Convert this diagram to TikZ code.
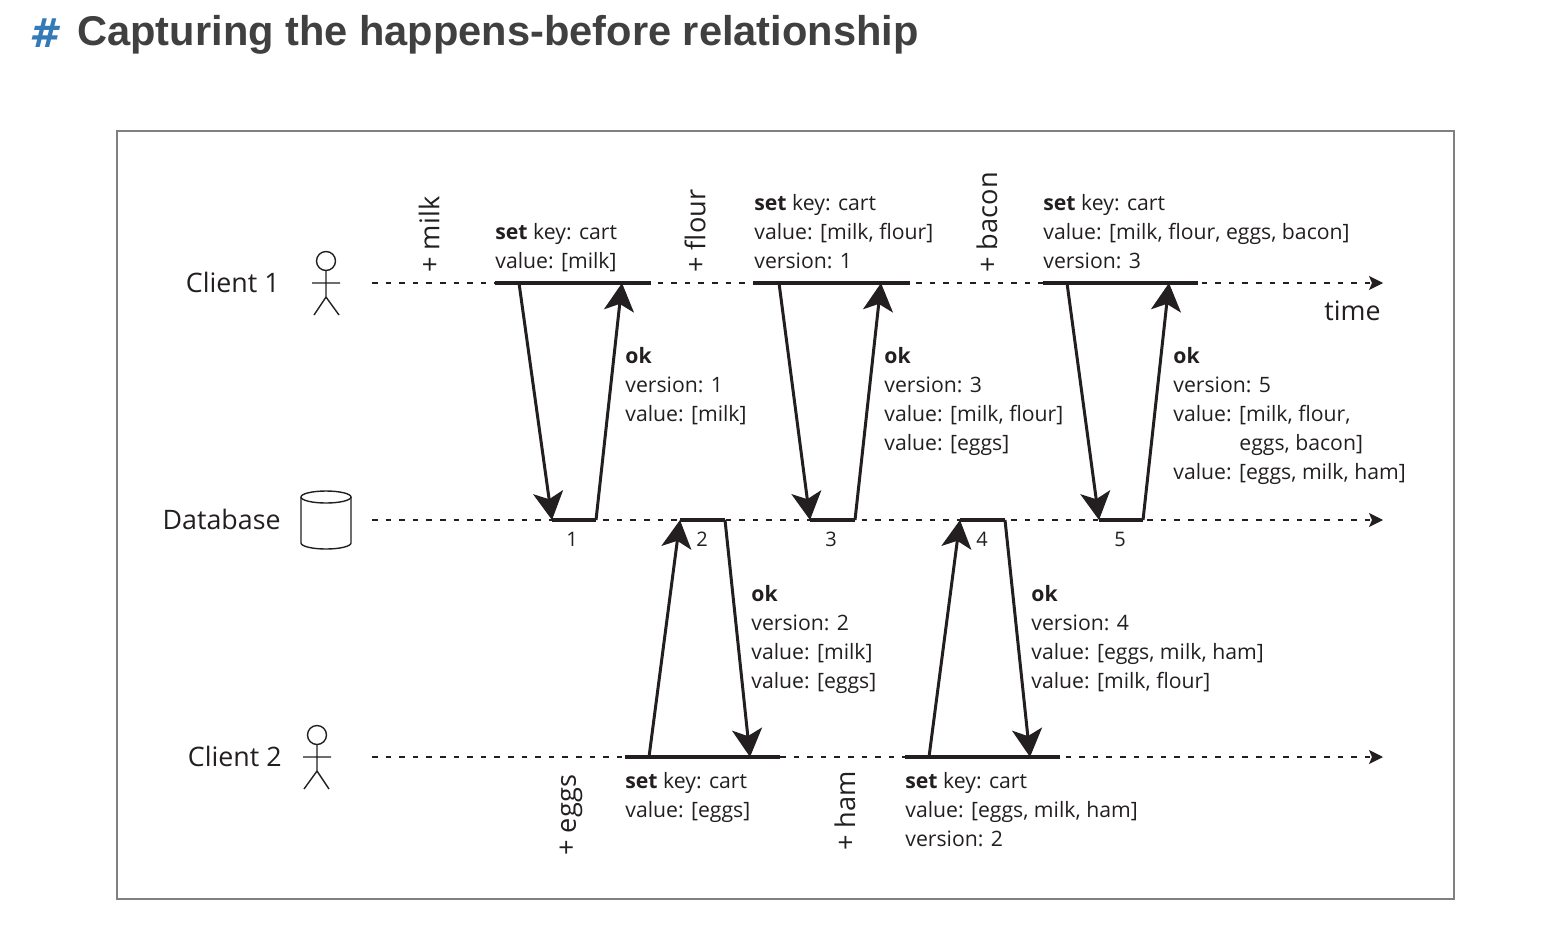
\documentclass[tikz,border=0pt]{standalone}
\usepackage{fontspec}
\setmainfont{Open Sans}
\newfontfamily\headfont{Liberation Sans}
\newfontfamily\hashfont{DejaVu Sans}
\usetikzlibrary{arrows.meta}
\definecolor{headblue}{HTML}{337AB7}
\definecolor{headgrey}{HTML}{404040}
\definecolor{inkblack}{HTML}{231F20}
\tikzset{
  every node/.style={inner sep=0pt,text=inkblack},
  lane/.style={line width=0.65pt,dash pattern=on 2.8pt off 4pt,inkblack,-{Stealth[length=7pt,width=7pt,inset=1.5pt]}},
  busy/.style={line width=1.8pt,inkblack},
  msg/.style={line width=1.5pt,inkblack,-{Stealth[length=14pt,width=15pt,inset=3.5pt]}},
  figure/.style={line width=0.7pt,inkblack},
  info/.style={anchor=north west,align=left,font=\fontsize{10.6}{14.5}\selectfont},
  actor/.style={font=\fontsize{13.4}{16}\selectfont},
  item/.style={rotate=90,anchor=west,font=\fontsize{13.6}{16}\selectfont},
  num/.style={font=\fontsize{10}{12}\selectfont}
}
\begin{document}
\begin{tikzpicture}[x=0.5pt,y=-0.5pt]
\useasboundingbox (0,0) rectangle (1566,948);
\draw[draw=gray,line width=1pt] (117,131) rectangle (1454,899);
\node[text=headblue,font=\hashfont\bfseries\itshape\fontsize{20}{24}\selectfont] (hash) at (43,33) {\#};
\node[text=headgrey,anchor=west,font=\headfont\bfseries\fontsize{20.8}{24}\selectfont] (title) at (77,35) {Capturing the happens-before relationship};
\node[actor,anchor=east] (client1) at (280,282) {Client 1};
\node[actor,anchor=east] (database) at (281,519) {Database};
\node[actor,anchor=east] (client2) at (282,756) {Client 2};
\coordinate (l1a) at (372,283);
\coordinate (l1b) at (1383,283);
\coordinate (l2a) at (372,520);
\coordinate (l2b) at (1383,520);
\coordinate (l3a) at (372,757);
\coordinate (l3b) at (1383,757);
\draw[lane] (l1a) -- (l1b);
\draw[lane] (l2a) -- (l2b);
\draw[lane] (l3a) -- (l3b);
% write spans
\coordinate (s1a) at (495,283);
\coordinate (s1b) at (651,283);
\coordinate (s2a) at (753,283);
\coordinate (s2b) at (910,283);
\coordinate (s3a) at (1043,283);
\coordinate (s3b) at (1198,283);
\coordinate (s4a) at (625,757);
\coordinate (s4b) at (780,757);
\coordinate (s5a) at (905,757);
\coordinate (s5b) at (1060,757);
\draw[busy] (s1a) -- (s1b) (s2a) -- (s2b) (s3a) -- (s3b) (s4a) -- (s4b) (s5a) -- (s5b);
% database spans
\coordinate (d1a) at (552,520);
\coordinate (d1b) at (596,520);
\coordinate (d2a) at (680,520);
\coordinate (d2b) at (725,520);
\coordinate (d3a) at (810,520);
\coordinate (d3b) at (855,520);
\coordinate (d4a) at (960,520);
\coordinate (d4b) at (1005,520);
\coordinate (d5a) at (1099,520);
\coordinate (d5b) at (1143,520);
\draw[busy] (d1a) -- (d1b) (d2a) -- (d2b) (d3a) -- (d3b) (d4a) -- (d4b) (d5a) -- (d5b);
% arrow ends on the client lines
\coordinate (r1) at (519,283);
\coordinate (k1) at (622,283);
\coordinate (r3) at (779,283);
\coordinate (k3) at (881,283);
\coordinate (r5) at (1067,283);
\coordinate (k5) at (1169,283);
\coordinate (r2) at (649,757);
\coordinate (k2) at (750,757);
\coordinate (r4) at (929,757);
\coordinate (k4) at (1030,757);
\draw[msg] (r1) -- (d1a);
\draw[msg] (d1b) -- (k1);
\draw[msg] (r2) -- (d2a);
\draw[msg] (d2b) -- (k2);
\draw[msg] (r3) -- (d3a);
\draw[msg] (d3b) -- (k3);
\draw[msg] (r4) -- (d4a);
\draw[msg] (d4b) -- (k4);
\draw[msg] (r5) -- (d5a);
\draw[msg] (d5b) -- (k5);
% figures
\draw[figure] (326,261) circle (9.5);
\draw[figure] (326,270.5) -- (326,297) -- (314,315) (326,297) -- (339,315) (312,283) -- (340,283);
\draw[figure] (317,735) circle (9.5);
\draw[figure] (317,744.5) -- (317,771) -- (304,789) (317,771) -- (329,789) (303,757) -- (331,757);
\draw[figure] (326,497) ellipse (25 and 6);
\draw[figure] (301,497) -- (301,543) arc (180:0:25 and 6) -- (351,497);
% labels
\node[item] (milk) at (429,273) {+ milk};
\node[item] (flour) at (695,273) {+ flour};
\node[item] (bacon) at (987,273) {+ bacon};
\node[item] (eggs) at (571,856) {+ eggs};
\node[item] (ham) at (845,851) {+ ham};
\node[actor,anchor=east] (time) at (1381,311) {time};
\node[info] (w1) at (495,223) {\textbf{set} key: cart\\value: [milk]};
\node[info] (w3) at (754,194) {\textbf{set} key: cart\\value: [milk, flour]\\version: 1};
\node[info] (w5) at (1043,194) {\textbf{set} key: cart\\value: [milk, flour, eggs, bacon]\\version: 3};
\node[info] (w2) at (625,772) {\textbf{set} key: cart\\value: [eggs]};
\node[info] (w4) at (905,772) {\textbf{set} key: cart\\value: [eggs, milk, ham]\\version: 2};
\node[info] (a1) at (625,347) {\textbf{ok}\\version: 1\\value: [milk]};
\node[info] (a3) at (884,347) {\textbf{ok}\\version: 3\\value: [milk, flour]\\value: [eggs]};
\node[info] (a5) at (1173,347) {\textbf{ok}\\version: 5\\value: [milk, flour,\\\hspace*{33pt}eggs, bacon]\\value: [eggs, milk, ham]};
\node[info] (a2) at (751,585) {\textbf{ok}\\version: 2\\value: [milk]\\value: [eggs]};
\node[info] (a4) at (1031,585) {\textbf{ok}\\version: 4\\value: [eggs, milk, ham]\\value: [milk, flour]};
\node[num] (n1) at (572,539) {1};
\node[num] (n2) at (702,539) {2};
\node[num] (n3) at (831,539) {3};
\node[num] (n4) at (982,539) {4};
\node[num] (n5) at (1120,539) {5};
\end{tikzpicture}
\end{document}
